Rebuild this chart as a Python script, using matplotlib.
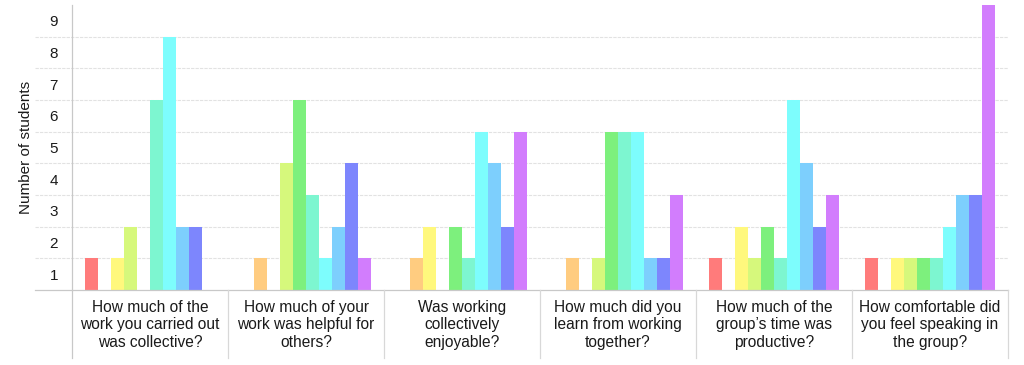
import matplotlib.pyplot as plt
import numpy as np
from matplotlib.transforms import blended_transform_factory

plt.rcParams['font.family'] = ['Liberation Sans', 'DejaVu Sans']

questions = ['How much of the\nwork you carried out\nwas collective?',
             'How much of your\nwork was helpful for\nothers?',
             'Was working\ncollectively\nenjoyable?',
             'How much did you\nlearn from working\ntogether?',
             'How much of the\ngroup\u2019s time was\nproductive?',
             'How comfortable did\nyou feel speaking in\nthe group?']

# one row per question, one column per rating (1..10)
counts = np.array([
    [1, 0, 1, 2, 0, 6, 8, 2, 2, 0],
    [0, 1, 0, 4, 6, 3, 1, 2, 4, 1],
    [0, 1, 2, 0, 2, 1, 5, 4, 2, 5],
    [0, 1, 0, 1, 5, 5, 5, 1, 1, 3],
    [1, 0, 2, 1, 2, 1, 6, 4, 2, 3],
    [1, 0, 1, 1, 1, 1, 2, 3, 3, 9],
])

colors = ['#ff7b7b', '#ffcc80', '#fff87d', '#d6f87c', '#7df07d',
          '#7df6d0', '#7dfdfd', '#7dcffd', '#7d86fd', '#d27dfd']

fig = plt.figure(figsize=(10.24, 3.65), dpi=100)
ax = fig.add_axes([72/1024, 1-290/365, 936/1024, 285/365])

n_q, n_r = counts.shape
slot = n_r + 2
for j in range(n_r):
    x = np.arange(n_q) * slot + 1 + j + 0.5
    ax.bar(x, counts[:, j], width=1.0, color=colors[j], linewidth=0, zorder=3)

ax.set_xlim(0, n_q * slot)
ax.set_ylim(0, 9)

for s in ['top', 'right', 'bottom', 'left']:
    ax.spines[s].set_visible(False)

# grid lines reaching slightly left of the axis
ext = -37/936
for y in range(1, 9):
    ax.axhline(y, xmin=ext, xmax=1, color='#e2e2e2', linewidth=0.8,
               linestyle=(0, (3, 1)), clip_on=False, zorder=1)
ax.axhline(0, xmin=ext, xmax=1, color='#c8c8c8', linewidth=0.9,
           clip_on=False, zorder=4)

# vertical axis line and category separators
tr = blended_transform_factory(ax.transData, ax.transAxes)
bottom = -68/285
ax.plot([0, 0], [bottom, 1.0], transform=tr, color='#c8c8c8',
        linewidth=0.9, clip_on=False, zorder=4)
for i in range(1, n_q + 1):
    ax.plot([i * slot, i * slot], [bottom, 0], transform=tr, color='#d8d8d8',
            linewidth=0.9, clip_on=False, zorder=4)

for i, q in enumerate(questions):
    ax.text(i * slot + slot / 2, -35/285, q, transform=tr, ha='center',
            va='center', fontsize=11.2, linespacing=1.18, color='#1a1a1a')

ax.set_xticks([])
ax.set_yticks(np.arange(9) + 0.5)
ax.set_yticklabels([str(v) for v in range(1, 10)], fontsize=11, color='#1a1a1a')
ax.tick_params(axis='y', length=0, pad=10)
ax.set_ylabel('Number of students', fontsize=11, color='#1a1a1a', labelpad=12)

fig.savefig('out.png', dpi=100)
